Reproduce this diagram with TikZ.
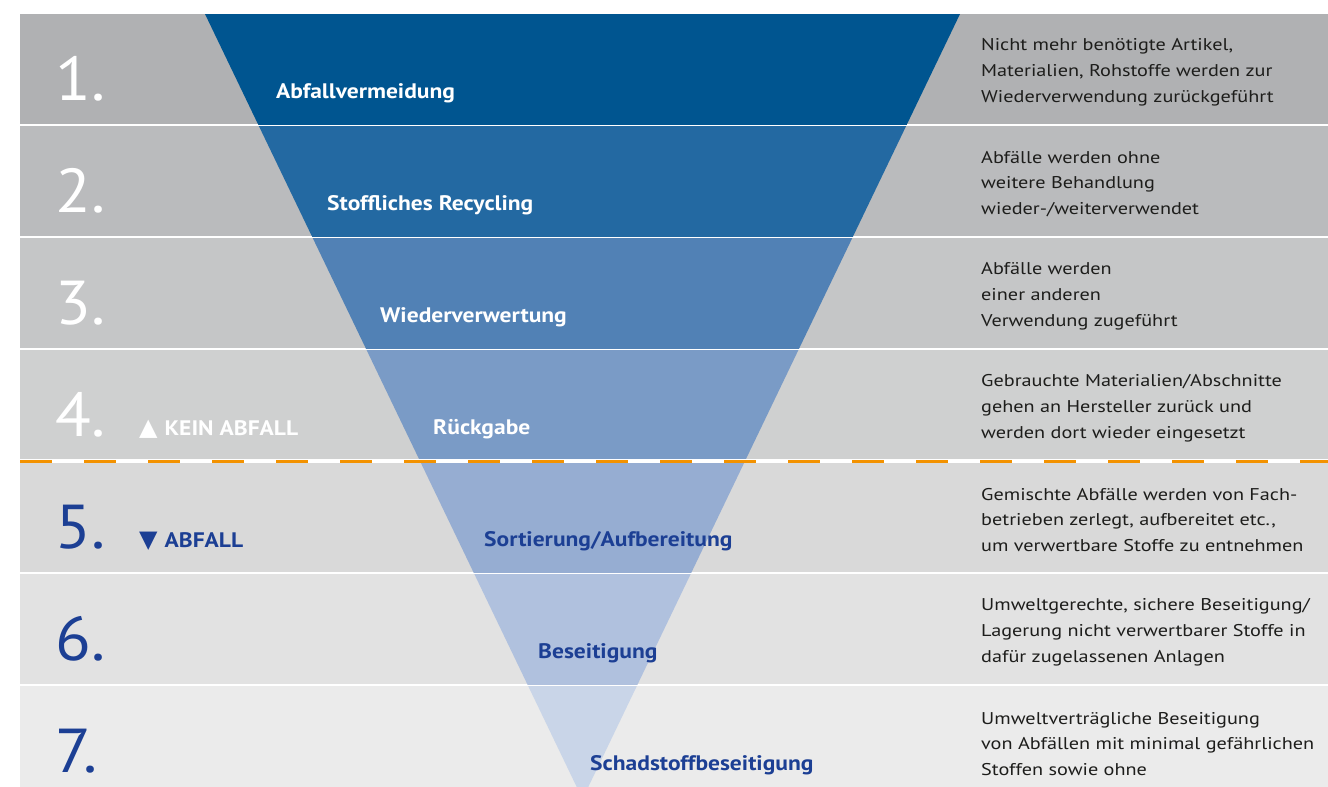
\documentclass[tikz,border=0pt]{standalone}
\usepackage{fontspec}
\setmainfont{PT Sans}[FakeStretch=1.12]
\newfontfamily\numfont{PT Sans}[FakeStretch=1.06]
\newfontfamily\infofont{PT Sans}[FakeStretch=1.19]
\newfontfamily\symfont{DejaVu Sans}
\usepackage{xcolor}
\usepackage{tikz}
\usetikzlibrary{positioning}

\definecolor{band1}{HTML}{B0B1B3}
\definecolor{band2}{HTML}{BABBBD}
\definecolor{band3}{HTML}{C5C6C7}
\definecolor{band4}{HTML}{CFD0D0}
\definecolor{band5}{HTML}{D9D9D9}
\definecolor{band6}{HTML}{E2E2E2}
\definecolor{band7}{HTML}{EBEBEB}
\definecolor{funnel1}{HTML}{005590}
\definecolor{funnel2}{HTML}{2369A2}
\definecolor{funnel3}{HTML}{5181B5}
\definecolor{funnel4}{HTML}{7A9BC6}
\definecolor{funnel5}{HTML}{96ADD2}
\definecolor{funnel6}{HTML}{B0C1DE}
\definecolor{funnel7}{HTML}{C9D5E8}
\definecolor{wasteblue}{HTML}{1C3F94}
\definecolor{infogray}{HTML}{1D1D1B}
\definecolor{cutorange}{HTML}{F39200}

\begin{document}
\begin{tikzpicture}[x=1pt,y=-1pt,
  rank/.style={font=\numfont\fontsize{62}{62}\selectfont, anchor=base west, inner sep=0pt},
  stage/.style={font=\bfseries\fontsize{21}{21}\selectfont, anchor=base west, inner sep=0pt},
  info/.style={font=\infofont\fontsize{17}{25.8}\selectfont, text=infogray, align=left, anchor=west, inner sep=0pt},
  marker/.style={font=\bfseries\fontsize{21}{21}\selectfont, anchor=base west, inner sep=0pt}]
\useasboundingbox (0,0) rectangle (1328,787);
% bands, each with its slice of the funnel
\foreach \i in {1,...,7}{
  \pgfmathsetmacro\ytop{14+112*(\i-1)}
  \fill[band\i] (20,\ytop) rectangle (1328,\ytop+110);
  \begin{scope}
    \clip (20,\ytop) rectangle (1328,\ytop+110);
    \fill[funnel\i] (205,14) -- (960,14) -- (582.5,799) -- cycle;
  \end{scope}
}
% border between waste and no waste
\coordinate (cutL) at (20,461);
\coordinate (cutR) at (1328,461);
\draw[white, line width=4pt] (cutL) -- (cutR);
\draw[cutorange, line width=3pt, dash pattern=on 32pt off 32pt] (cutL) -- (cutR);

\node[rank, text=white] (rank1) at (55,100) {1.};
\node[rank, text=white] (rank2) at (55,212) {2.};
\node[rank, text=white] (rank3) at (55,324) {3.};
\node[rank, text=white] (rank4) at (55,436) {4.};
\node[rank, text=wasteblue] (rank5) at (55,548) {5.};
\node[rank, text=wasteblue] (rank6) at (55,660) {6.};
\node[rank, text=wasteblue] (rank7) at (55,772) {7.};

\node[marker, text=white] (nowaste) at (139,435) {{\symfont\fontsize{24}{24}\selectfont ▲}\hspace{7pt}KEIN ABFALL};
\node[marker, text=wasteblue] (waste) at (139,547) {{\symfont\fontsize{24}{24}\selectfont ▼}\hspace{7pt}ABFALL};

\node[stage, text=white] (stage1) at (276,98) {Abfallvermeidung};
\node[stage, text=white] (stage2) at (327,210) {Stoffliches Recycling};
\node[stage, text=white] (stage3) at (380,322) {Wiederverwertung};
\node[stage, text=white] (stage4) at (433,434) {Rückgabe};
\node[stage, text=wasteblue] (stage5) at (484,546) {Sortierung/Aufbereitung};
\node[stage, text=wasteblue] (stage6) at (538,658) {Beseitigung};
\node[stage, text=wasteblue] (stage7) at (590,770) {Schadstoffbeseitigung};

\node[info] (info1) at (981,72) {Nicht mehr benötigte Artikel,\\Materialien, Rohstoffe werden zur\\Wiederverwendung zurückgeführt};
\node[info] (info2) at (981,184) {Abfälle werden ohne\\weitere Behandlung\\wieder-/weiterverwendet};
\node[info] (info3) at (981,296) {Abfälle werden\\einer anderen\\Verwendung zugeführt};
\node[info] (info4) at (981,408) {Gebrauchte Materialien/Abschnitte\\gehen an Hersteller zurück und\\werden dort wieder eingesetzt};
\node[info] (info5) at (981,520) {Gemischte Abfälle werden von Fach-\\betrieben zerlegt, aufbereitet etc.,\\um verwertbare Stoffe zu entnehmen};
\node[info] (info6) at (981,632) {Umweltgerechte, sichere Beseitigung/\\Lagerung nicht verwertbarer Stoffe in\\dafür zugelassenen Anlagen};
\node[info] (info7) at (981,744) {Umweltverträgliche Beseitigung\\von Abfällen mit minimal gefährlichen\\Stoffen sowie ohne};
\end{tikzpicture}
\end{document}
